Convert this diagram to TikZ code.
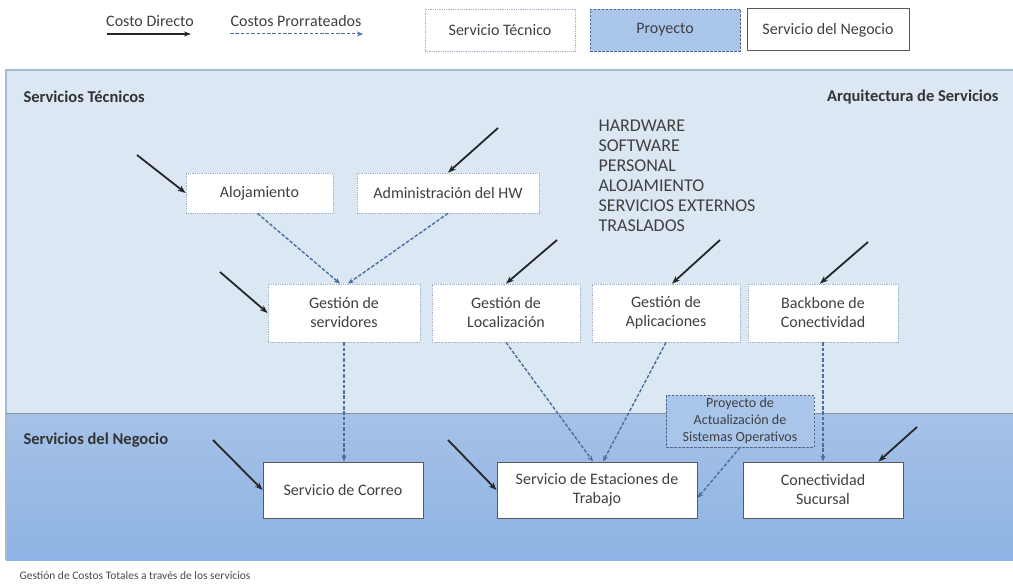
\documentclass[tikz,border=0pt]{standalone}
\usepackage{fontspec}
\setmainfont{Carlito}
\usetikzlibrary{arrows.meta}
\definecolor{panelA}{HTML}{DCE7F4}
\definecolor{panelB1}{HTML}{A6C2E7}
\definecolor{panelB2}{HTML}{8DB3E4}
\definecolor{edgeline}{HTML}{A9B9CF}
\definecolor{dotline}{HTML}{9FB2CC}
\definecolor{prorr}{HTML}{4A6E9E}
\definecolor{projfill}{HTML}{A9C5EA}
\definecolor{projline}{HTML}{55688A}
\definecolor{txt}{HTML}{404040}
\begin{document}
\begin{tikzpicture}[x=1pt,y=-1pt,
  every node/.style={font=\fontsize{16}{19}\selectfont, text=txt, align=center},
  techbox/.style={draw=dotline, densely dotted, line width=0.8pt, fill=white, inner sep=2pt},
  projbox/.style={draw=projline, dashed, dash pattern=on 2.5pt off 1.5pt, line width=0.9pt, fill=projfill, inner sep=2pt},
  bizbox/.style={draw=black!65, line width=1pt, fill=white, inner sep=2pt},
  direct/.style={-{Stealth[length=8pt,width=6pt]}, line width=1.8pt, black!85},
  prorate/.style={-{Stealth[length=6pt,width=5pt]}, line width=1.4pt, prorr, dash pattern=on 3.5pt off 1.8pt},
  paneltitle/.style={font=\bfseries\fontsize{16.5}{19}\selectfont, text=black!80}]
\useasboundingbox (0,0) rectangle (1013,588);
\fill[white] (0,0) rectangle (1013,588);

% panels
\fill[panelA] (6,70) rectangle (1013,413);
\shade[top color=panelB1, bottom color=panelB2] (6,413) rectangle (1013,560);
\draw[edgeline, line width=1.2pt] (6,560) -- (6,70) -- (1013,70);
\draw[edgeline!80!black, line width=0.8pt] (6,413) -- (1013,413);

% legend
\node[anchor=south] (ldir) at (150,30) {Costo Directo};
\coordinate (ldirA) at (107,34);
\coordinate (ldirB) at (191,34);
\draw[direct, -{Stealth[length=7pt,width=5pt]}] (ldirA) -- (ldirB);
\node[anchor=south] (lpro) at (296,30) {Costos Prorrateados};
\coordinate (lproA) at (230,34);
\coordinate (lproB) at (363,34);
\draw[prorate, line width=1pt] (lproA) -- (lproB);
\node[techbox, minimum width=150pt, minimum height=42pt] (legT) at (500,30) {Servicio Técnico};
\node[projbox, minimum width=150pt, minimum height=42pt] (legP) at (665,30) {Proyecto};
\node[bizbox, minimum width=162pt, minimum height=42pt] (legB) at (828,30) {Servicio del Negocio};

% panel titles
\node[paneltitle, anchor=west] (tTec) at (20,97) {Servicios Técnicos};
\node[paneltitle, anchor=east] (tArq) at (1002,97) {Arquitectura de Servicios};
\node[paneltitle, anchor=west] (tNeg) at (20,440) {Servicios del Negocio};

% cost elements
\node[anchor=north west, align=left, font=\fontsize{18}{20}\selectfont] (costs) at (595,116)
  {HARDWARE\\SOFTWARE\\PERSONAL\\ALOJAMIENTO\\SERVICIOS EXTERNOS\\TRASLADOS};

% technical services
\node[techbox, minimum width=147pt, minimum height=40pt] (aloj) at (259.5,193) {Alojamiento};
\node[techbox, minimum width=182pt, minimum height=40pt] (adm) at (448,193) {Administración del HW};
\node[techbox, minimum width=152pt, minimum height=58pt] (gser) at (344,313) {Gestión de\\servidores};
\node[techbox, minimum width=148pt, minimum height=58pt] (gloc) at (506,313) {Gestión de\\Localización};
\node[techbox, minimum width=148pt, minimum height=58pt] (gapl) at (666,313) {Gestión de\\Aplicaciones};
\node[techbox, minimum width=150pt, minimum height=58pt] (bbc) at (823,313) {Backbone de\\Conectividad};

% project
\node[projbox, minimum width=148pt, minimum height=52pt, font=\fontsize{14}{17}\selectfont] (proj) at (740,421)
  {Proyecto de\\Actualización de\\Sistemas Operativos};

% business services
\node[bizbox, minimum width=160pt, minimum height=56pt] (correo) at (343,490) {Servicio de Correo};
\node[bizbox, minimum width=200pt, minimum height=56pt] (estac) at (597,490) {Servicio de Estaciones de\\Trabajo};
\node[bizbox, minimum width=160pt, minimum height=56pt] (conec) at (823,490) {Conectividad\\Sucursal};

% direct cost arrows
\coordinate (dA) at (137,155);
\coordinate (dB) at (498,128);
\coordinate (dC) at (220,272);
\coordinate (dD) at (557,240);
\coordinate (dE) at (720,240);
\coordinate (dF) at (868,242);
\coordinate (dG) at (213,440);
\coordinate (dH) at (448,440);
\coordinate (dI) at (917,427);
\draw[direct] (dA) -- (aloj.west);
\draw[direct] (dB) -- (adm.north);
\draw[direct] (dC) -- (gser.west);
\draw[direct] (dD) -- (gloc.north);
\draw[direct] (dE) -- ([xshift=6pt]gapl.north);
\draw[direct] (dF) -- ([xshift=-3pt]bbc.north);
\draw[direct] (dG) -- (correo.west);
\draw[direct] (dH) -- (estac.west);
\draw[direct] (dI) -- ([xshift=-25pt]conec.north east);

% prorated cost arrows
\draw[prorate] ([xshift=-2pt]aloj.south) -- ([xshift=-4pt]gser.north);
\draw[prorate] (adm.south) -- ([xshift=4pt]gser.north);
\draw[prorate] (gser.south) -- (correo.north -| gser.south);
\draw[prorate] (gloc.south) -- ([xshift=-4pt]estac.north);
\draw[prorate] (gapl.south) -- ([xshift=6pt]estac.north);
\draw[prorate] (proj.south) -- ([yshift=-8pt]estac.east);
\draw[prorate] (bbc.south) -- (conec.north);

% caption
\node[anchor=west, font=\fontsize{11.5}{13}\selectfont, text=black!70] (cap) at (16,576)
  {Gestión de Costos Totales a través de los servicios};
\end{tikzpicture}
\end{document}
